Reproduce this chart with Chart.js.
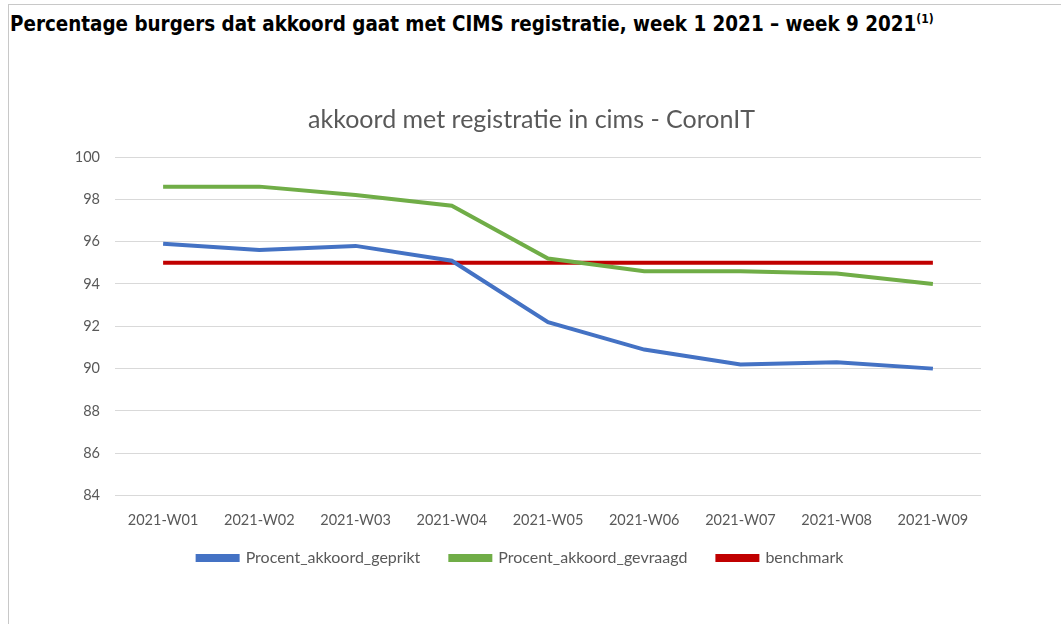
<!DOCTYPE html>
<html>
<head>
<meta charset="utf-8">
<script src="https://cdn.jsdelivr.net/npm/chart.js@4/dist/chart.umd.min.js"></script>
<style>
  body { margin: 0; background: #fff; }
  #frame {
    position: absolute; left: 8px; top: 4px; width: 1053px; height: 620px;
    border-top: 1px solid #c8c8c8; border-left: 1px solid #c8c8c8;
  }
  #heading {
    position: absolute; left: 10px; top: 12px;
    font-family: "DejaVu Sans Condensed", "DejaVu Sans", sans-serif;
    font-weight: bold; font-size: 20.4px; color: #000; white-space: nowrap;
  }
  #heading sup { font-size: 12px; }
  #wrap { position: absolute; left: 0; top: 0; width: 1061px; height: 624px; }
</style>
</head>
<body>
<div id="frame"></div>
<div id="heading">Percentage burgers dat akkoord gaat met CIMS registratie, week 1 2021 – week 9 2021<sup>(1)</sup></div>
<div id="wrap"><canvas id="myChart"></canvas></div>
<script>
// weeks on the x axis
let weeks = ['2021-W01', '2021-W02', '2021-W03', '2021-W04', '2021-W05', '2021-W06', '2021-W07', '2021-W08', '2021-W09'];

// series
let geprikt = [95.9, 95.6, 95.8, 95.1, 92.2, 90.9, 90.2, 90.3, 90.0];
let gevraagd = [98.6, 98.6, 98.2, 97.7, 95.2, 94.6, 94.6, 94.5, 94.0];
let benchmark = [95, 95, 95, 95, 95, 95, 95, 95, 95];

let grey = '#595959';
let tickFont = { family: 'Lato, "Noto Sans", sans-serif', size: 14.5 };

// nudge the chart title a bit to the right, like the excel original
let titleShift = {
    id: 'titleShift',
    afterLayout: function (chart) {
        chart.titleBlock.left += 11;
        chart.titleBlock.right += 11;
    }
};

var ctx = document.getElementById('myChart').getContext('2d');
var chart = new Chart(ctx, {
    type: 'line',
    data: {
        labels: weeks,
        datasets: [{
            label: 'Procent_akkoord_geprikt',
            data: geprikt,
            borderColor: '#4472C4',
            backgroundColor: '#4472C4'
        }, {
            label: 'Procent_akkoord_gevraagd',
            data: gevraagd,
            borderColor: '#70AD47',
            backgroundColor: '#70AD47'
        }, {
            label: 'benchmark',
            data: benchmark,
            borderColor: '#C00000',
            backgroundColor: '#C00000'
        }]
    },
    plugins: [titleShift],
    options: {
        responsive: true,
        maintainAspectRatio: false,
        animation: false,
        elements: {
            line: { borderWidth: 4, tension: 0 },
            point: { radius: 0 }
        },
        layout: { padding: { left: 60, right: 80, top: 95, bottom: 48 } },
        plugins: {
            title: {
                display: true,
                text: 'akkoord met registratie in cims - CoronIT',
                color: grey,
                font: { family: 'Lato, "Noto Sans", sans-serif', size: 25, weight: 'normal' },
                padding: { top: 10, bottom: 22 }
            },
            legend: {
                position: 'bottom',
                // empty legend title with negative padding pulls the legend closer to the axis
                title: {
                    display: true,
                    text: '',
                    font: { size: 10, lineHeight: 1 },
                    padding: { top: 0, bottom: -27 }
                },
                labels: {
                    color: grey,
                    font: { family: 'Lato, "Noto Sans", sans-serif', size: 16 },
                    boxWidth: 40,
                    boxHeight: 4,
                    padding: 30
                }
            },
            tooltip: { enabled: false }
        },
        scales: {
            x: {
                offset: true,
                grid: { display: false },
                border: { display: false },
                ticks: { color: grey, font: tickFont, padding: 8, maxRotation: 0 }
            },
            y: {
                min: 84,
                max: 100,
                grid: { color: '#d9d9d9', lineWidth: 1, drawTicks: false },
                border: { display: false },
                ticks: { stepSize: 2, color: grey, font: tickFont, padding: 15 },
                afterFit: function (scale) { scale.width = 55; }
            }
        }
    }
});
</script>
</body>
</html>
